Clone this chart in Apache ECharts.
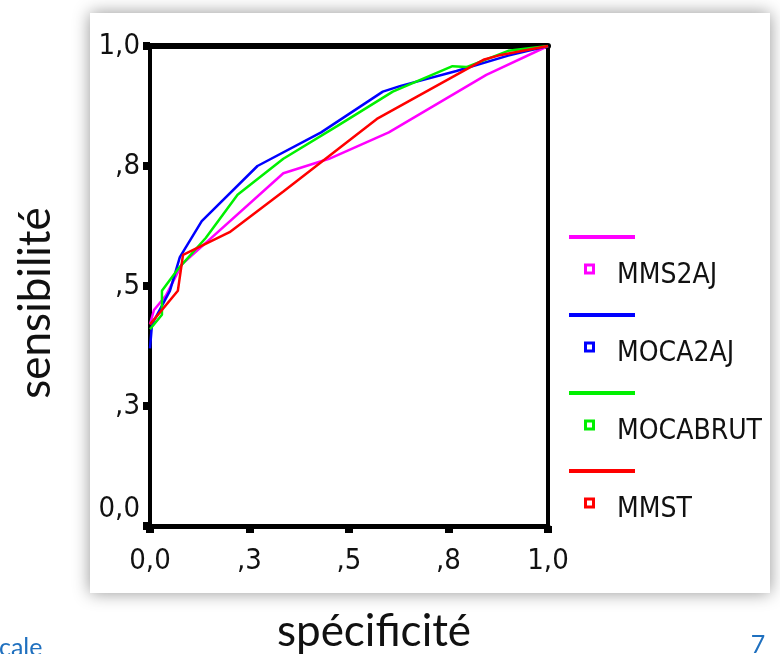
<!DOCTYPE html>
<html>
<head>
<meta charset="utf-8">
<script src="https://cdn.jsdelivr.net/npm/echarts@6/dist/echarts.min.js"></script>
<style>html,body{margin:0;padding:0;background:#fff;}#chart{width:780px;height:654px;}</style>
</head>
<body>
<div id="chart"></div>
<script>
// ---- data (specificity x, sensitivity y) ----
const seriesNames = ['MMS2AJ', 'MOCA2AJ', 'MOCABRUT', 'MMST'];
const seriesColors = ['#ff00ff', '#0000ff', '#00f000', '#ff0000'];
const mms2aj = [[0,0.42],[0.01,0.45],[0.04,0.48],[0.08,0.545],[0.335,0.735],[0.45,0.765],[0.6,0.82],[0.845,0.94],[1,1]];
const moca2aj = [[0,0.37],[0.005,0.42],[0.05,0.49],[0.075,0.56],[0.13,0.635],[0.27,0.75],[0.43,0.82],[0.585,0.905],[0.63,0.917],[0.77,0.948],[0.9,0.98],[1,1]];
const mocabrut = [[0,0.41],[0.03,0.44],[0.03,0.49],[0.07,0.535],[0.14,0.6],[0.22,0.69],[0.335,0.765],[0.47,0.833],[0.61,0.905],[0.76,0.958],[0.795,0.956],[0.9,0.99],[1,1]];
const mmst = [[0,0.42],[0.07,0.49],[0.083,0.565],[0.2,0.612],[0.335,0.697],[0.57,0.848],[0.84,0.972],[0.875,0.98],[1,1]];
const tickLabels = ['0,0', ',3', ',5', ',8', '1,0'];
const xTitle = 'spécificité';
const yTitle = 'sensibilité';

const seriesData = [mms2aj, moca2aj, mocabrut, mmst];
const fmtX = v => tickLabels[Math.round(v * 4)];
const fmtY = v => (Math.round(v * 4) === 0 ? '{lo|' + tickLabels[0] + '}' : tickLabels[Math.round(v * 4)]);

// pick a condensed sans font if one is installed
function hasFont(name) {
  const c = document.createElement('canvas').getContext('2d');
  const s = 'MOCABRUT 1,0 mmm';
  let diff = false;
  ['monospace', 'serif'].forEach(fb => {
    c.font = '40px ' + fb; const a = c.measureText(s).width;
    c.font = '40px "' + name + '", ' + fb; const b = c.measureText(s).width;
    if (Math.abs(a - b) > 0.5) diff = true;
  });
  return diff;
}
let condFont = 'Liberation Sans', legendSize = 25, tickSize = 26;
if (hasFont('DejaVu Sans Condensed')) { condFont = 'DejaVu Sans Condensed'; legendSize = 28; tickSize = 29; }
else if (hasFont('Liberation Sans Narrow')) { condFont = 'Liberation Sans Narrow'; legendSize = 30; tickSize = 31; }

const tickFont = {fontFamily: condFont, fontSize: tickSize, color: '#111'};

const chart = echarts.init(document.getElementById('chart'));
chart.setOption({
  animation: false,
  backgroundColor: '#ffffff',
  grid: {left: 150, right: 232, top: 46, bottom: 128, containLabel: false},
  xAxis: [
    {type: 'value', min: 0, max: 1, interval: 0.25, position: 'bottom',
     axisLine: {onZero: false, lineStyle: {color: '#000', width: 5}},
     axisTick: {show: true, length: 7, lineStyle: {color: '#000', width: 8}},
     axisLabel: Object.assign({margin: 21, formatter: fmtX, showMinLabel: true, showMaxLabel: true}, tickFont),
     splitLine: {show: false}},
    {type: 'value', min: 0, max: 1, interval: 0.25, position: 'top',
     axisLine: {onZero: false, lineStyle: {color: '#000', width: 6}},
     axisTick: {show: false}, axisLabel: {show: false}, splitLine: {show: false}}
  ],
  yAxis: [
    {type: 'value', min: 0, max: 1, interval: 0.25, position: 'left',
     axisLine: {onZero: false, lineStyle: {color: '#000', width: 4}},
     axisTick: {show: true, length: 7, lineStyle: {color: '#000', width: 8}},
     axisLabel: Object.assign({margin: 10, formatter: fmtY, showMinLabel: true, showMaxLabel: true,
       rich: {lo: {fontFamily: condFont, fontSize: tickSize, color: '#111', padding: [0, 0, 34, 0]}}}, tickFont),
     splitLine: {show: false}},
    {type: 'value', min: 0, max: 1, interval: 0.25, position: 'right',
     axisLine: {onZero: false, lineStyle: {color: '#000', width: 4}},
     axisTick: {show: false}, axisLabel: {show: false}, splitLine: {show: false}}
  ],
  legend: [
    {orient: 'vertical', left: 569, top: 235, padding: 0, itemGap: 74,
     icon: 'rect', itemWidth: 66, itemHeight: 4, selectedMode: false,
     data: seriesNames, formatter: function () { return ''; },
     textStyle: {fontSize: 4, lineHeight: 4}},
    {orient: 'vertical', left: 584, top: 259, padding: 0, itemGap: 44,
     icon: 'path://M0,0H11V11H0Z M3,3V8H8V3Z M0,25L0,25Z', itemWidth: 11, itemHeight: 25, selectedMode: false,
     data: seriesNames,
     textStyle: {fontFamily: condFont, fontSize: legendSize,
       lineHeight: 34, color: '#111', padding: [0, 0, 0, 17]}}
  ],
  graphic: {elements: [
    {type: 'rect', z: -10, shape: {x: 90, y: 13, width: 680, height: 580},
     style: {fill: '#ffffff', shadowBlur: 16, shadowColor: 'rgba(0,0,0,0.42)'}},
    {type: 'text', x: 36, y: 303, rotation: Math.PI / 2,
     style: {text: yTitle, fontFamily: 'Lato, Carlito, sans-serif', fontSize: 44, fill: '#111', align: 'center', verticalAlign: 'middle'}},
    {type: 'text', x: 374, y: 632,
     style: {text: xTitle, fontFamily: 'Lato, Carlito, sans-serif', fontSize: 44, fill: '#111', align: 'center', verticalAlign: 'middle'}},
    {type: 'text', x: -1, y: 648,
     style: {text: 'cale', fontFamily: 'Lato, Carlito, sans-serif', fontSize: 25, fill: '#1f70bf', align: 'left', verticalAlign: 'middle'}},
    {type: 'text', x: 758, y: 645,
     style: {text: '7', fontFamily: 'Lato, Carlito, sans-serif', fontSize: 25, fill: '#1f70bf', align: 'center', verticalAlign: 'middle'}}
  ]},
  series: seriesNames.map((name, i) => ({
    name: name, type: 'line', data: seriesData[i], xAxisIndex: 0, yAxisIndex: 0,
    showSymbol: false, symbol: 'none', smooth: false, z: 3 + i,
    itemStyle: {color: seriesColors[i]},
    lineStyle: {color: seriesColors[i], width: 2.5}
  }))
});
</script>
</body>
</html>
